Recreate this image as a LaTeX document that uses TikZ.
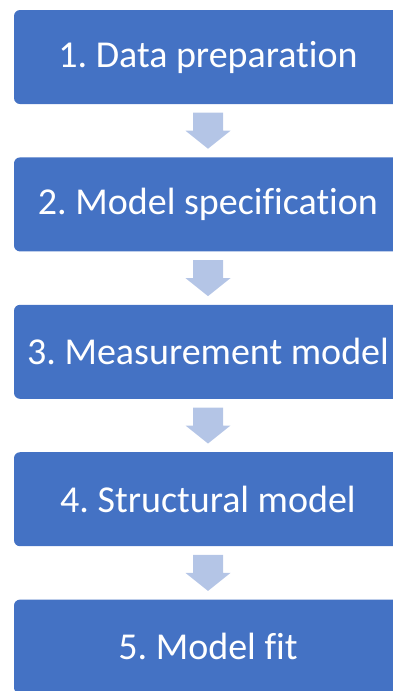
\documentclass[tikz,border=0pt]{standalone}
\usepackage{fontspec}
\setmainfont[Ligatures=CommonOff]{Carlito}
\usetikzlibrary{positioning, calc}

\definecolor{stepblue}{HTML}{4472C4}
\definecolor{arrowblue}{HTML}{B4C5E6}
\frenchspacing

\begin{document}
\begin{tikzpicture}[
        x=1pt, y=-1pt,
        stepbox/.style={rectangle, rounded corners=6pt, fill=stepblue,
            minimum width=388pt, minimum height=94pt, inner sep=0pt,
            text=white, font=\fontsize{38}{44}\selectfont},
        flowarrow/.style={fill=arrowblue},
        node distance=53pt
    ]
        \useasboundingbox (0,0) rectangle (393,691);

        % Steps
        \node[stepbox] (s1) at (208,57) {1. Data preparation};
        \node[stepbox, below=of s1] (s2) {2. Model specification};
        \node[stepbox, below=of s2] (s3) {3. Measurement model};
        \node[stepbox, below=of s3] (s4) {4. Structural model};
        \node[stepbox, below=of s4] (s5) {5. Model fit};

        % Block arrows between steps
        \foreach \a/\b in {s1/s2, s2/s3, s3/s4, s4/s5} {
            \coordinate (\a-\b) at ($(\a.south)!0.5!(\b.north)$);
            \fill[flowarrow] ($(\a-\b)+(-15,-18)$) -- ($(\a-\b)+(15,-18)$)
                -- ($(\a-\b)+(15,0)$) -- ($(\a-\b)+(22.5,0)$)
                -- ($(\a-\b)+(0,18)$) -- ($(\a-\b)+(-22.5,0)$)
                -- ($(\a-\b)+(-15,0)$) -- cycle;
        }
    \end{tikzpicture}
\end{document}
